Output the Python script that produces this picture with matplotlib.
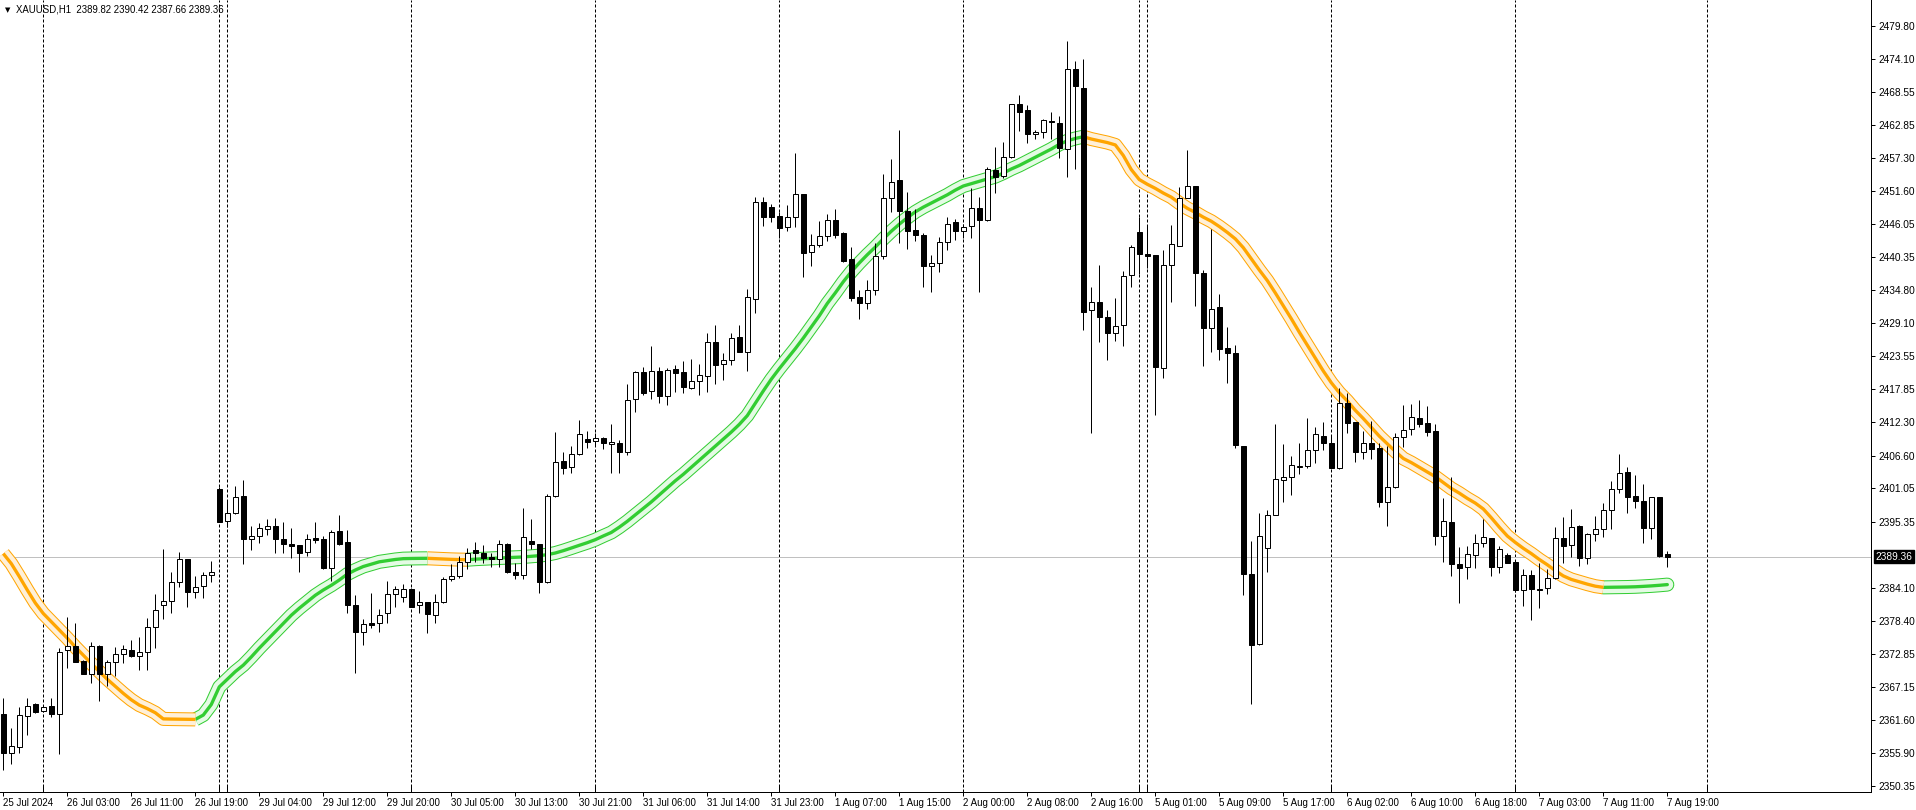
import matplotlib
matplotlib.use("Agg")
import matplotlib.pyplot as plt
from matplotlib.transforms import blended_transform_factory
import numpy as np

plt.rcParams["font.family"] = ["Liberation Sans", "DejaVu Sans"]
plt.rcParams["font.size"] = 7.3

# ===================== data (XAUUSD H1) =====================
opens = [
    2362.58, 2355.89, 2356.91, 2362.30, 2364.29, 2363.04, 2363.89, 2362.53, 2373.43, 2374.11,
    2371.61, 2369.45, 2374.11, 2369.34, 2371.38, 2372.75, 2373.43, 2372.52, 2373.09, 2377.34,
    2381.09, 2381.77, 2385.01, 2388.92, 2383.30, 2384.33, 2386.20, 2400.84, 2395.51, 2396.76,
    2399.71, 2392.44, 2392.84, 2394.15, 2394.54, 2392.39, 2391.53, 2391.31, 2390.12, 2392.56,
    2392.39, 2387.39, 2393.75, 2391.82, 2381.09, 2376.61, 2378.02, 2378.02, 2379.73, 2382.96,
    2382.57, 2383.81, 2381.09, 2381.60, 2379.50, 2381.60, 2385.52, 2386.03, 2388.52, 2390.45,
    2390.00, 2389.26, 2388.92, 2391.48, 2386.82, 2386.20, 2392.04, 2391.48, 2385.12, 2399.76,
    2405.67, 2404.59, 2406.80, 2409.42, 2409.02, 2409.53, 2408.51, 2408.68, 2407.14, 2416.17,
    2420.77, 2417.53, 2421.00, 2416.80, 2421.34, 2420.77, 2418.16, 2419.24, 2420.20, 2425.88,
    2422.13, 2422.81, 2426.73, 2424.29, 2433.32, 2449.72, 2448.87, 2447.39, 2445.46, 2447.17,
    2451.08, 2441.21, 2442.40, 2443.99, 2446.71, 2444.55, 2440.07, 2433.60, 2432.63, 2434.73,
    2440.52, 2450.40, 2453.47, 2448.19, 2444.95, 2444.10, 2438.93, 2439.33, 2442.91, 2446.31,
    2444.78, 2445.63, 2448.70, 2446.77, 2455.17, 2454.15, 2457.38, 2466.41, 2465.44, 2461.30,
    2461.64, 2463.57, 2463.17, 2458.83, 2472.48, 2469.25, 2431.33, 2432.83, 2430.13, 2427.51,
    2428.78, 2437.33, 2444.75, 2441.00, 2440.70, 2421.59, 2439.13, 2442.35, 2450.52, 2452.46,
    2437.70, 2428.26, 2431.86, 2424.89, 2423.98, 2408.25, 2386.51, 2374.45, 2390.86, 2396.41,
    2402.37, 2402.88, 2404.70, 2404.81, 2407.48, 2409.87, 2408.67, 2404.53, 2415.49, 2412.25,
    2407.14, 2408.67, 2407.82, 2398.63, 2401.29, 2409.70, 2411.06, 2412.99, 2412.08, 2410.77,
    2392.84, 2395.22, 2388.13, 2387.56, 2389.60, 2391.65, 2392.50, 2387.56, 2389.60, 2388.41,
    2383.64, 2386.19, 2383.81, 2383.98, 2385.68, 2392.49, 2391.30, 2394.54, 2389.09, 2393.23,
    2394.03, 2397.26, 2400.84, 2403.73, 2399.65, 2398.79, 2394.31, 2399.48, 2389.82,
]
highs = [
    2365.25, 2360.20, 2363.72, 2365.25, 2364.51, 2363.83, 2365.25, 2373.77, 2379.05, 2378.03,
    2371.70, 2374.90, 2374.34, 2371.78, 2373.94, 2374.34, 2375.19, 2375.70, 2378.88, 2382.96,
    2390.63, 2386.71, 2390.12, 2389.04, 2386.09, 2386.82, 2388.58, 2401.30, 2398.91, 2401.41,
    2402.43, 2394.60, 2395.05, 2395.74, 2395.91, 2395.34, 2394.20, 2391.36, 2393.24, 2395.28,
    2392.90, 2393.92, 2396.47, 2393.92, 2382.85, 2378.82, 2383.13, 2380.52, 2385.23, 2384.44,
    2384.72, 2383.98, 2383.59, 2381.70, 2382.96, 2385.97, 2388.13, 2389.49, 2390.80, 2391.87,
    2391.36, 2389.94, 2392.22, 2391.65, 2388.24, 2397.72, 2395.73, 2391.60, 2399.99, 2410.61,
    2407.20, 2408.28, 2412.65, 2410.78, 2410.38, 2409.81, 2411.97, 2409.25, 2418.78, 2421.05,
    2421.74, 2425.26, 2421.62, 2421.45, 2422.02, 2422.70, 2422.98, 2422.13, 2427.53, 2428.83,
    2424.01, 2427.41, 2428.83, 2434.96, 2450.69, 2450.57, 2449.44, 2448.13, 2449.27, 2458.07,
    2451.15, 2444.33, 2446.54, 2447.73, 2448.58, 2444.67, 2442.06, 2434.73, 2436.49, 2442.74,
    2454.54, 2457.10, 2462.04, 2451.42, 2448.53, 2444.44, 2440.75, 2443.76, 2447.22, 2446.94,
    2446.03, 2452.10, 2450.57, 2455.79, 2459.14, 2459.94, 2466.50, 2468.00, 2466.29, 2462.04,
    2463.97, 2465.10, 2464.42, 2477.27, 2473.82, 2474.12, 2435.38, 2438.97, 2431.33, 2433.35,
    2438.00, 2442.42, 2447.29, 2445.94, 2440.80, 2441.52, 2445.79, 2452.31, 2458.61, 2452.50,
    2438.23, 2445.19, 2434.10, 2428.41, 2425.41, 2408.30, 2391.98, 2396.78, 2397.38, 2412.00,
    2408.56, 2406.52, 2408.73, 2412.93, 2411.40, 2412.25, 2410.09, 2418.04, 2417.30, 2412.30,
    2410.83, 2412.48, 2408.67, 2408.22, 2410.49, 2415.20, 2415.37, 2416.05, 2415.03, 2411.97,
    2399.37, 2402.88, 2390.96, 2391.19, 2393.18, 2395.73, 2392.55, 2391.19, 2389.94, 2388.45,
    2387.27, 2387.10, 2388.24, 2387.27, 2394.37, 2396.07, 2397.43, 2394.76, 2393.46, 2396.30,
    2398.45, 2402.26, 2406.86, 2404.59, 2403.28, 2401.69, 2399.50, 2399.55, 2390.42,
]
lows = [
    2353.05, 2354.01, 2355.89, 2359.07, 2362.70, 2362.93, 2362.02, 2355.72, 2370.36, 2371.38,
    2369.40, 2367.92, 2364.86, 2367.41, 2369.11, 2371.33, 2372.29, 2370.02, 2370.02, 2373.88,
    2378.82, 2379.73, 2384.27, 2380.86, 2382.40, 2382.40, 2385.12, 2395.23, 2394.49, 2396.70,
    2388.13, 2390.51, 2391.65, 2393.07, 2389.95, 2389.95, 2389.09, 2386.71, 2389.55, 2391.65,
    2387.30, 2385.29, 2391.40, 2379.73, 2369.51, 2374.28, 2377.17, 2376.61, 2378.02, 2380.86,
    2381.71, 2380.80, 2379.73, 2376.32, 2378.02, 2381.50, 2385.29, 2385.69, 2387.33, 2388.52,
    2388.24, 2387.56, 2387.56, 2386.65, 2385.52, 2385.52, 2390.63, 2383.13, 2384.84, 2399.59,
    2403.40, 2403.57, 2406.70, 2407.83, 2408.39, 2407.66, 2403.57, 2403.68, 2406.69, 2414.07,
    2416.91, 2416.17, 2415.61, 2415.15, 2417.48, 2417.31, 2417.88, 2416.91, 2417.48, 2418.78,
    2419.47, 2422.08, 2424.20, 2421.05, 2430.82, 2445.75, 2446.43, 2443.59, 2444.90, 2445.58,
    2437.06, 2438.94, 2442.06, 2443.19, 2443.59, 2439.56, 2432.91, 2429.91, 2431.61, 2433.94,
    2440.01, 2448.13, 2442.85, 2441.83, 2443.08, 2435.36, 2434.50, 2437.80, 2441.55, 2443.36,
    2443.59, 2443.59, 2434.50, 2446.48, 2451.25, 2453.81, 2457.27, 2461.92, 2459.77, 2460.56,
    2460.62, 2460.56, 2457.21, 2453.96, 2455.46, 2428.03, 2410.49, 2426.01, 2422.79, 2426.16,
    2425.33, 2435.23, 2437.48, 2438.53, 2413.57, 2419.86, 2432.83, 2442.30, 2450.50, 2432.08,
    2421.89, 2424.28, 2422.86, 2418.89, 2407.80, 2382.91, 2364.25, 2374.40, 2386.74, 2396.40,
    2398.74, 2399.88, 2403.51, 2404.42, 2405.27, 2407.54, 2404.50, 2404.25, 2410.38, 2405.55,
    2406.06, 2406.06, 2397.89, 2394.65, 2401.12, 2408.11, 2410.04, 2411.51, 2409.92, 2391.42,
    2388.52, 2386.14, 2381.54, 2385.51, 2387.39, 2391.08, 2386.08, 2386.53, 2388.24, 2383.41,
    2380.91, 2378.64, 2380.57, 2382.96, 2385.51, 2388.35, 2389.26, 2387.78, 2388.18, 2392.10,
    2392.78, 2394.14, 2400.16, 2396.87, 2397.72, 2391.76, 2392.38, 2389.26, 2387.66,
]
closes = [
    2355.89, 2357.14, 2362.41, 2363.89, 2362.98, 2363.72, 2362.53, 2373.20, 2374.11, 2371.50,
    2369.45, 2374.11, 2369.45, 2371.38, 2372.75, 2373.60, 2372.52, 2373.09, 2377.34, 2380.24,
    2381.77, 2385.01, 2388.92, 2383.30, 2384.16, 2386.20, 2386.77, 2395.34, 2396.76, 2399.60,
    2392.44, 2392.84, 2394.20, 2394.54, 2392.44, 2391.48, 2391.25, 2390.06, 2392.44, 2392.22,
    2387.39, 2393.58, 2391.48, 2381.09, 2376.49, 2377.86, 2377.80, 2379.39, 2382.96, 2383.87,
    2383.81, 2380.86, 2381.60, 2379.61, 2381.60, 2385.52, 2386.03, 2388.52, 2389.94, 2390.00,
    2389.21, 2388.92, 2391.48, 2386.82, 2386.20, 2392.73, 2391.48, 2385.12, 2399.71, 2405.44,
    2404.53, 2406.80, 2410.21, 2408.96, 2409.53, 2408.68, 2408.90, 2407.14, 2416.00, 2420.77,
    2417.31, 2421.00, 2416.80, 2421.11, 2420.71, 2418.22, 2419.30, 2420.26, 2425.88, 2422.08,
    2422.81, 2426.56, 2424.29, 2433.54, 2449.72, 2447.28, 2447.28, 2445.41, 2447.17, 2451.08,
    2441.04, 2442.40, 2443.93, 2446.71, 2444.16, 2439.78, 2433.48, 2432.63, 2434.73, 2440.52,
    2450.40, 2453.13, 2448.30, 2444.78, 2444.10, 2438.93, 2439.33, 2442.91, 2445.97, 2444.78,
    2445.46, 2448.70, 2446.77, 2455.34, 2454.09, 2457.38, 2466.41, 2465.16, 2461.30, 2461.64,
    2463.74, 2463.34, 2458.91, 2472.48, 2469.48, 2431.11, 2432.83, 2430.13, 2427.51, 2428.71,
    2437.25, 2442.20, 2441.00, 2440.62, 2421.74, 2439.13, 2442.57, 2450.52, 2452.46, 2437.63,
    2428.26, 2431.63, 2424.66, 2423.98, 2408.32, 2386.51, 2374.30, 2392.96, 2396.41, 2402.55,
    2402.88, 2404.93, 2404.81, 2407.48, 2410.21, 2408.67, 2404.53, 2415.49, 2412.08, 2407.14,
    2408.67, 2407.77, 2398.63, 2401.29, 2409.70, 2410.89, 2413.10, 2412.02, 2410.66, 2392.84,
    2395.39, 2388.07, 2387.39, 2389.77, 2391.65, 2392.67, 2387.56, 2390.62, 2388.35, 2383.64,
    2386.19, 2383.81, 2383.75, 2385.68, 2392.49, 2391.25, 2394.48, 2389.09, 2393.17, 2394.03,
    2397.26, 2400.84, 2403.56, 2399.59, 2398.79, 2394.31, 2399.48, 2389.54, 2389.36,
]

# trend line (moving average)
ma = [
    2389.9, 2388.2, 2386.0, 2383.7, 2381.5, 2379.7, 2378.3, 2376.9, 2375.5, 2374.0,
    2372.6, 2371.2, 2369.8, 2368.5, 2367.3, 2366.1, 2365.0, 2364.1, 2363.5, 2362.8,
    2361.75, 2361.72, 2361.70, 2361.68, 2361.66, 2362.4, 2364.2, 2367.2, 2368.5, 2369.8,
    2370.9, 2372.3, 2373.8, 2375.2, 2376.6, 2378.0, 2379.4, 2380.6, 2381.7, 2382.8,
    2383.7, 2384.5, 2385.4, 2386.4, 2387.1, 2387.7, 2388.1, 2388.5, 2388.7, 2388.9,
    2389.04, 2389.07, 2389.09, 2389.10, 2389.04, 2388.98, 2388.92, 2388.88, 2388.86, 2388.95,
    2389.02, 2389.09, 2389.15, 2389.21, 2389.27, 2389.33, 2389.44, 2389.55, 2389.72, 2390.00,
    2390.40, 2390.85, 2391.31, 2391.76, 2392.27, 2392.90, 2393.5, 2394.4, 2395.4, 2396.5,
    2397.6, 2398.7, 2399.9, 2401.1, 2402.3, 2403.4, 2404.6, 2405.8, 2407.0, 2408.2,
    2409.4, 2410.6, 2411.9, 2413.4, 2415.5, 2417.6, 2419.6, 2421.4, 2423.1, 2424.8,
    2426.6, 2428.5, 2430.4, 2432.5, 2434.3, 2436.2, 2437.9, 2439.4, 2440.8, 2442.1,
    2443.5, 2444.8, 2446.0, 2447.1, 2448.1, 2448.9, 2449.6, 2450.3, 2451.0, 2451.8,
    2452.5, 2452.9, 2453.3, 2453.7, 2454.1, 2454.7, 2455.4, 2456.0, 2456.7, 2457.4,
    2458.1, 2458.8, 2459.6, 2460.2, 2460.6, 2460.9, 2460.5, 2460.2, 2459.9, 2459.5,
    2457.7, 2455.3, 2453.6, 2452.8, 2452.1, 2451.3, 2450.6, 2449.6, 2448.7, 2448.0,
    2447.2, 2446.5, 2445.6, 2444.6, 2443.5, 2442.0, 2440.1, 2438.2, 2436.4, 2434.3,
    2432.1, 2429.9, 2427.6, 2425.4, 2423.2, 2421.0, 2419.0, 2417.3, 2415.9, 2414.3,
    2412.9, 2411.4, 2409.9, 2408.6, 2407.3, 2406.1, 2405.4, 2404.6, 2403.8, 2403.0,
    2402.0, 2401.0, 2400.2, 2399.3, 2398.5, 2397.5, 2396.0, 2394.4, 2392.9, 2391.8,
    2390.8, 2389.9, 2388.9, 2388.0, 2387.0, 2386.1, 2385.5, 2385.1, 2384.7, 2384.35,
    2384.15, 2384.17, 2384.19, 2384.21, 2384.25, 2384.32, 2384.40, 2384.50, 2384.62,
]

time_labels = [
    "25 Jul 2024", "26 Jul 03:00", "26 Jul 11:00", "26 Jul 19:00", "29 Jul 04:00",
    "29 Jul 12:00", "29 Jul 20:00", "30 Jul 05:00", "30 Jul 13:00", "30 Jul 21:00",
    "31 Jul 06:00", "31 Jul 14:00", "31 Jul 23:00", "1 Aug 07:00", "1 Aug 15:00",
    "2 Aug 00:00", "2 Aug 08:00", "2 Aug 16:00", "5 Aug 01:00", "5 Aug 09:00",
    "5 Aug 17:00", "6 Aug 02:00", "6 Aug 10:00", "6 Aug 18:00", "7 Aug 03:00",
    "7 Aug 11:00", "7 Aug 19:00",
]
label_bars = list(range(0, 209, 8))
separator_bars = [5, 27, 28, 51, 74, 97, 120, 142, 143, 166, 189, 213]
price_ticks = [2479.80, 2474.10, 2468.55, 2462.85, 2457.30, 2451.60, 2446.05, 2440.35,
               2434.80, 2429.10, 2423.55, 2417.85, 2412.30, 2406.60, 2401.05, 2395.35,
               2384.10, 2378.40, 2372.85, 2367.15, 2361.60, 2355.90, 2350.35]
last_price = 2389.36
title = "XAUUSD,H1  2389.82 2390.42 2387.66 2389.36"

# ===================== figure =====================
PX = 0.72  # one pixel in points at dpi 100

o = np.array(opens)
h = np.array(highs)
l = np.array(lows)
c = np.array(closes)
m = np.array(ma)
x = np.arange(len(c))

fig = plt.figure(figsize=(19.16, 8.10), dpi=100)
ax = fig.add_axes([0, 18 / 810, 1871 / 1916, 792 / 810])
ax.set_xlim(-0.41, 233.46)
ax.set_ylim(2349.30, 2484.18)

# day separators
for s in separator_bars:
    ax.axvline(s, color="black", lw=PX, ls=(0, (3, 2)), zorder=1)

# current price line
ax.axhline(last_price, color="#c0c0c0", lw=PX, zorder=1)

# trend band: orange when falling, green when rising
rising = np.diff(m) >= 0
runs = []
start = 0
for i in range(1, len(rising)):
    if rising[i] != rising[start]:
        runs.append((start, i, rising[start]))
        start = i
runs.append((start, len(rising), rising[start]))

for k, (a, b, up) in enumerate(reversed(runs)):
    xs = x[a:b + 1]
    ys = m[a:b + 1]
    if up:
        line_col, fill_col = "#32cd32", "#e4fbe4"
    else:
        line_col, fill_col = "#ffa500", "#fff0d8"
    cap = "round" if k == 0 else "butt"
    ax.plot(xs, ys, color=line_col, lw=14 * PX, solid_capstyle=cap, solid_joinstyle="round", zorder=2)
    ax.plot(xs, ys, color=fill_col, lw=12 * PX, solid_capstyle=cap, solid_joinstyle="round", zorder=2)
    ax.plot(xs, ys, color=line_col, lw=3.3 * PX, solid_capstyle=cap, solid_joinstyle="round", zorder=2)

# candles
ax.vlines(x, l, h, color="black", lw=PX, zorder=3)
bull = c > o
body_low = np.minimum(o, c)
body_h = np.maximum(np.abs(c - o), 0.08)
ax.bar(x[bull], body_h[bull], bottom=body_low[bull], width=0.6,
       color="white", edgecolor="black", linewidth=PX, zorder=4)
ax.bar(x[~bull], body_h[~bull], bottom=body_low[~bull], width=0.6,
       color="black", edgecolor="black", linewidth=PX, zorder=4)

# axes look
for side in ["top", "left"]:
    ax.spines[side].set_visible(False)
for side in ["right", "bottom"]:
    ax.spines[side].set_color("black")
    ax.spines[side].set_linewidth(PX)

ax.yaxis.tick_right()
ax.set_yticks(price_ticks)
ax.set_yticklabels([f"{p:.2f}" for p in price_ticks])
ax.tick_params(axis="y", length=3, width=PX, pad=2, labelsize=7.3)

ax.set_xticks(label_bars)
ax.set_xticklabels(time_labels, ha="left")
ax.set_xticks(separator_bars, minor=True)
ax.tick_params(axis="x", which="major", length=3, width=PX, pad=1, labelsize=7.0)
ax.tick_params(axis="x", which="minor", direction="in", length=4, width=PX)

# price box on the right axis
trans = blended_transform_factory(ax.transAxes, ax.transData)
ax.annotate(f"{last_price:.2f}", xy=(1, last_price), xycoords=trans,
            xytext=(3, 0), textcoords="offset points", ha="left", va="center",
            color="white", fontsize=7.3,
            bbox=dict(boxstyle="square,pad=0.15", facecolor="black", edgecolor="black"),
            annotation_clip=False)

# symbol header
fig.text(5 / 1916, 1 - 10 / 810, "\u25bc", fontsize=5, va="center", ha="left",
         family=["DejaVu Sans"])
fig.text(16 / 1916, 1 - 10 / 810, title, fontsize=6.9, va="center", ha="left")

fig.savefig("out.png", dpi=100)
